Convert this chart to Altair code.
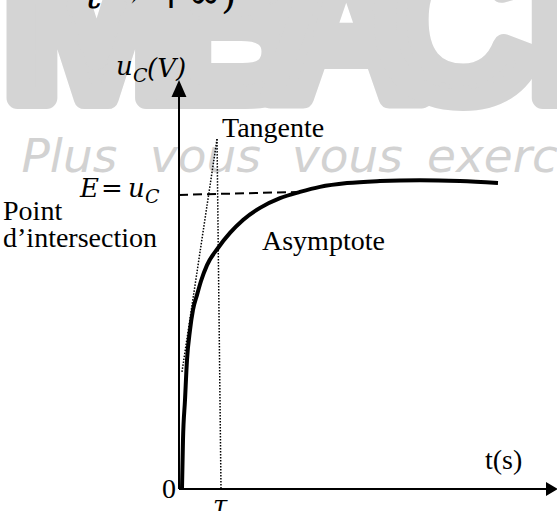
import altair as alt
import pandas as pd

# Charging curve of the capacitor: t in units of tau, u_C in units of E
curve_t = [0.071, 0.095, 0.143, 0.190, 0.262, 0.333, 0.429, 0.524, 0.667, 0.929,
           1.214, 1.524, 1.929, 2.405, 2.881, 3.357, 4.000, 4.786, 5.738, 6.690,
           7.595]
curve_u = [0.000, 0.166, 0.302, 0.437, 0.539, 0.607, 0.658, 0.705, 0.759, 0.817,
           0.868, 0.912, 0.953, 0.986, 1.007, 1.024, 1.037, 1.044, 1.047, 1.044,
           1.037]

# Asymptote u = E (dashed)
asym_t = [0.0, 2.88]
asym_u = [0.997, 1.007]

# Tangent at the origin and the drop line to tau (dotted)
tangent_t = [0.071, 0.905]
tangent_u = [0.397, 1.186]
tau_t = [0.905, 1.0]
tau_u = [1.186, 0.0]

# Axes
t_axis_end = 8.76
u_axis_end = 1.329

# Watermark
wm_letters = ["M", "B", "A", "C", "I"]
wm_centers = [-1.97, 1.31, 3.98, 6.62, 9.05]
wm_words = ["Plus", "vous", "vous", "exercez"]
wm_word_t = [-3.75, -0.69, 2.69, 5.905]

X_SCALE = alt.Scale(domain=[-4.262, 9.0], nice=False, zero=False)
Y_SCALE = alt.Scale(domain=[-0.0746, 1.6576], nice=False, zero=False)


def xy(tf="t", uf="u"):
    return dict(
        x=alt.X(f"{tf}:Q", scale=X_SCALE, axis=None),
        y=alt.Y(f"{uf}:Q", scale=Y_SCALE, axis=None),
    )


def segment(t, u, **mark):
    df = pd.DataFrame({"t": [t[0]], "u": [u[0]], "t2": [t[1]], "u2": [u[1]]})
    return alt.Chart(df).mark_rule(color="black", **mark).encode(
        **xy(), x2="t2:Q", y2="u2:Q"
    )


def labels(rows, **mark):
    df = pd.DataFrame(rows, columns=["t", "u", "label"])
    return alt.Chart(df).mark_text(
        align=mark.pop("align", "left"), baseline="alphabetic",
        color=mark.pop("color", "black"), **mark
    ).encode(**xy(), text="label:N")


SERIF = "Liberation Serif, Times New Roman, serif"
MATH = "DejaVu Serif, serif"

wm_letter_layer = alt.Chart(
    pd.DataFrame({"t": wm_centers, "u": [1.325] * 5, "label": wm_letters})
).mark_text(
    align="center", baseline="alphabetic",
    font="Liberation Sans Narrow, Arial Narrow, sans-serif",
    fontWeight="bold", fontSize=225, color="#d4d4d4", stroke="#d4d4d4",
    strokeWidth=22, strokeJoin="round",
).encode(**xy(), text="label:N")

wm_word_layer = alt.Chart(
    pd.DataFrame({"t": wm_word_t, "u": [1.075] * 4, "label": wm_words})
).mark_text(
    align="left", baseline="alphabetic", font="DejaVu Sans, Verdana, sans-serif",
    fontStyle="italic", fontSize=47, color="#d2d2d2",
).encode(**xy(), text="label:N")

curve = alt.Chart(pd.DataFrame({"t": curve_t, "u": curve_u})).mark_line(
    color="black", strokeWidth=4, interpolate="monotone"
).encode(**xy())

asymptote = segment(asym_t, asym_u, strokeWidth=2, strokeDash=[9, 5])
tangent = segment(tangent_t, tangent_u, strokeWidth=1.5, strokeDash=[1.5, 1.5])
tau_line = segment(tau_t, tau_u, strokeWidth=1.5, strokeDash=[1.5, 1.5])
t_axis = segment([0.0, t_axis_end], [0.0, 0.0], strokeWidth=2)
u_axis = segment([0.0, 0.0], [0.0, u_axis_end], strokeWidth=2)

up_head = alt.Chart(pd.DataFrame({"t": [0.0], "u": [1.3576]})).mark_point(
    shape="M0,-1L0.88,1L-0.88,1Z", size=289, filled=True, color="black", opacity=1
).encode(**xy())
right_head = alt.Chart(pd.DataFrame({"t": [8.881], "u": [0.0]})).mark_point(
    shape="M-0.857,-1L0.857,0L-0.857,1Z", size=196, filled=True, color="black", opacity=1
).encode(**xy())

text_labels = labels(
    [
        [1.024, 1.193, "Tangente"],
        [1.976, 0.810, "Asymptote"],
        [-4.19, 0.912, "Point"],
        [-4.19, 0.820, "d\u2019intersection"],
        [7.286, 0.068, "t(s)"],
    ],
    font=SERIF, fontSize=28,
)
zero_label = labels([[-0.071, -0.031, "0"]], font=SERIF, fontSize=28, align="right")

math_main = labels(
    [
        [-2.357, 0.990, "E"],
        [-1.214, 0.990, "u"],
        [-1.500, 1.403, "u"],
        [-0.762, 1.397, "(V)"],
        [0.810, -0.085, "\u03c4"],
    ],
    font=MATH, fontSize=26, fontStyle="italic",
)
math_upright = labels([[-1.857, 0.990, "="]], font=MATH, fontSize=26)
math_sub = labels(
    [
        [-0.810, 0.969, "C"],
        [-1.095, 1.380, "C"],
    ],
    font=MATH, fontSize=19, fontStyle="italic",
)
limit_t = labels([[-2.214, 1.631, "t"]], font=MATH, fontSize=40, fontStyle="italic")
limit_rest = labels([[-1.690, 1.631, "\u2192 +\u221e)"]], font=MATH, fontSize=40)

chart = alt.layer(
    wm_letter_layer, wm_word_layer,
    asymptote, tangent, tau_line, curve, t_axis, u_axis, up_head, right_head,
    text_labels, zero_label, math_main, math_upright, math_sub, limit_t, limit_rest,
).properties(
    width=557, height=511, autosize=alt.AutoSizeParams(type="none"), padding=0,
).configure_view(stroke=None)

chart.save("out.html", embed_options={"renderer": "svg", "actions": False})
